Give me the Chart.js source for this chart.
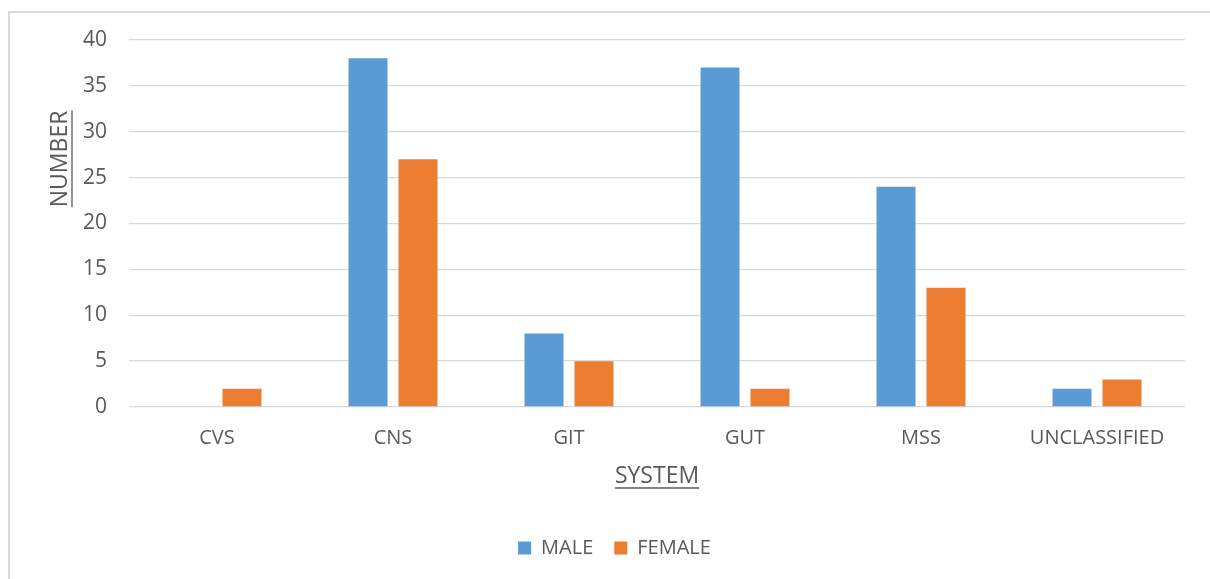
<!DOCTYPE html>
<html lang="en">
<head>
    <meta charset="UTF-8">
    <title>System by Gender</title>
    <script src="https://cdn.jsdelivr.net/npm/chart.js"></script>
    <style>
        html, body { margin: 0; padding: 0; background: #fff; overflow: hidden; }
        #frame {
            position: absolute; left: 8px; top: 11px;
            width: 1300px; height: 700px;
            border: 2px solid #d9d9d9; box-sizing: border-box;
        }
        #wrap { position: absolute; left: 0; top: 0; width: 1210px; height: 579px; }
    </style>
</head>
<body>
    <div id="frame"></div>
    <div id="wrap"><canvas id="systemChart"></canvas></div>

    <script>
        // data
        var categories = ['CVS', 'CNS', 'GIT', 'GUT', 'MSS', 'UNCLASSIFIED'];
        var maleCounts = [0, 38, 8, 37, 24, 2];
        var femaleCounts = [2, 27, 5, 2, 13, 3];
        var yTicks = [0, 5, 10, 15, 20, 25, 30, 35, 40];

        var textColor = '#595959';
        var fontFamily = '"Open Sans", sans-serif';

        // axis titles are underlined, so draw them by hand
        var underlinedTitles = {
            id: 'underlinedTitles',
            afterDraw: function (chart) {
                var ctx = chart.ctx;
                var area = chart.chartArea;
                var xs = chart.scales.x;
                ctx.save();
                ctx.fillStyle = textColor;
                ctx.strokeStyle = textColor;
                ctx.lineWidth = 1.3;
                ctx.font = '23px ' + fontFamily;
                ctx.textAlign = 'center';
                ctx.textBaseline = 'middle';

                // x title
                var tx = (area.left + area.right) / 2;
                var ty = xs.top + 69;
                var w = ctx.measureText('SYSTEM').width;
                ctx.fillText('SYSTEM', tx, ty);
                ctx.beginPath();
                ctx.moveTo(tx - w / 2, ty + 12);
                ctx.lineTo(tx + w / 2, ty + 12);
                ctx.stroke();

                // y title, rotated
                var yx = area.left - 69;
                var yy = area.top + (area.bottom - area.top) * 0.324;
                w = ctx.measureText('NUMBER').width;
                ctx.translate(yx, yy);
                ctx.rotate(-Math.PI / 2);
                ctx.fillText('NUMBER', 0, 0);
                ctx.beginPath();
                ctx.moveTo(-w / 2, 12);
                ctx.lineTo(w / 2, 12);
                ctx.stroke();
                ctx.restore();
            }
        };

        var ctx = document.getElementById('systemChart').getContext('2d');

        new Chart(ctx, {
            type: 'bar',
            data: {
                labels: categories,
                datasets: [{
                    label: 'MALE',
                    data: maleCounts,
                    backgroundColor: '#5b9bd5'
                }, {
                    label: 'FEMALE',
                    data: femaleCounts,
                    backgroundColor: '#ed7d31'
                }]
            },
            options: {
                responsive: true,
                maintainAspectRatio: false,
                animation: false,
                categoryPercentage: 0.568,
                barPercentage: 0.78,
                layout: {
                    padding: { left: 44, right: 25, top: 40, bottom: 11 }
                },
                plugins: {
                    tooltip: { enabled: false },
                    legend: {
                        position: 'bottom',
                        labels: {
                            color: textColor,
                            font: { family: fontFamily, size: 20 },
                            boxWidth: 13,
                            boxHeight: 13,
                            padding: 21
                        }
                    }
                },
                scales: {
                    x: {
                        grid: { display: false },
                        border: { display: false },
                        ticks: {
                            color: textColor,
                            font: { family: fontFamily, size: 20 },
                            padding: 11,
                            maxRotation: 0
                        },
                        afterFit: function (scale) { scale.height = 110; }
                    },
                    y: {
                        min: 0,
                        max: 40,
                        afterBuildTicks: function (scale) {
                            scale.ticks = yTicks.map(function (v) { return { value: v }; });
                        },
                        grid: { color: '#d9d9d9', lineWidth: 1.3, drawTicks: false },
                        border: { display: false },
                        ticks: {
                            color: textColor,
                            font: { family: fontFamily, size: 21 },
                            padding: 22
                        },
                        afterFit: function (scale) { scale.width = 85; }
                    }
                }
            },
            plugins: [underlinedTitles]
        });
    </script>
</body>
</html>
